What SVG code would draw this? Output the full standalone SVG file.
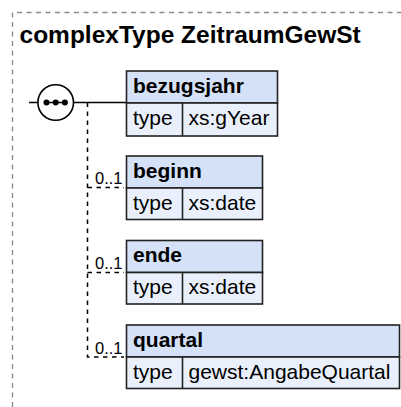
<svg xmlns="http://www.w3.org/2000/svg" width="401" height="407" viewBox="0 0 401 407">
  <style>
    text { font-family: "Liberation Sans", Arial, sans-serif; fill: #000; }
    .title { font-size: 24.5px; font-weight: bold; }
    .name { font-size: 21px; font-weight: bold; }
    .cell { font-size: 21px; }
    .occ { font-size: 16.5px; }
    .hdr { fill: #d5e1f7; stroke: #222; stroke-width: 1.6; }
    .row { fill: #eaf0fb; stroke: #222; stroke-width: 1.6; }
    .sep { stroke: #222; stroke-width: 1.6; }
    .solid { stroke: #000; stroke-width: 1.5; fill: none; }
    .dash { stroke: #000; stroke-width: 1.5; fill: none; stroke-dasharray: 4.5,4.5; }
  </style>

  <!-- complexType frame -->
  <g id="frame">
    <path d="M12.5,407 V12.5 H401" fill="none" stroke="#888" stroke-width="1.3" stroke-dasharray="5,4.5"/>
    <text class="title" x="19.5" y="42.5">complexType ZeitraumGewSt</text>
  </g>

  <!-- connectors -->
  <g id="connectors">
    <line class="solid" x1="29" y1="102.5" x2="126" y2="102.5"/>
    <path class="dash" d="M87.5,102.5 V357 H124"/>
    <path class="dash" d="M87.5,187.5 H124"/>
    <path class="dash" d="M87.5,272.5 H124"/>
    <text class="occ" x="95" y="184">0..1</text>
    <text class="occ" x="95" y="269">0..1</text>
    <text class="occ" x="95" y="353.5">0..1</text>
  </g>

  <!-- sequence compositor -->
  <g id="sequence">
    <circle cx="55.7" cy="102.5" r="17.8" fill="#fff" stroke="#000" stroke-width="1.6"/>
    <line x1="45" y1="102.5" x2="66" y2="102.5" stroke="#000" stroke-width="1.5"/>
    <circle cx="46.5" cy="102.5" r="3"/>
    <circle cx="55.7" cy="102.5" r="3"/>
    <circle cx="64.9" cy="102.5" r="3"/>
  </g>

  <!-- element bezugsjahr -->
  <g id="bezugsjahr">
    <rect class="hdr" x="126.5" y="71" width="151" height="32"/>
    <rect class="row" x="126.5" y="103" width="151" height="33"/>
    <line class="sep" x1="182.5" y1="103" x2="182.5" y2="136"/>
    <text class="name" x="133" y="92.5">bezugsjahr</text>
    <text class="cell" x="133" y="124.5">type</text>
    <text class="cell" x="188.5" y="124.5">xs:gYear</text>
  </g>

  <!-- element beginn -->
  <g id="beginn">
    <rect class="hdr" x="126.5" y="156" width="136" height="32"/>
    <rect class="row" x="126.5" y="188" width="136" height="31.5"/>
    <line class="sep" x1="182.5" y1="188" x2="182.5" y2="219.5"/>
    <text class="name" x="133" y="177.5">beginn</text>
    <text class="cell" x="133" y="209.5">type</text>
    <text class="cell" x="188.5" y="209.5">xs:date</text>
  </g>

  <!-- element ende -->
  <g id="ende">
    <rect class="hdr" x="126.5" y="240.5" width="136" height="32"/>
    <rect class="row" x="126.5" y="272.5" width="136" height="31.5"/>
    <line class="sep" x1="182.5" y1="272.5" x2="182.5" y2="304"/>
    <text class="name" x="133" y="262">ende</text>
    <text class="cell" x="133" y="294">type</text>
    <text class="cell" x="188.5" y="294">xs:date</text>
  </g>

  <!-- element quartal -->
  <g id="quartal">
    <rect class="hdr" x="126.5" y="325" width="273" height="32"/>
    <rect class="row" x="126.5" y="357" width="273" height="31.5"/>
    <line class="sep" x1="182.5" y1="357" x2="182.5" y2="388.5"/>
    <text class="name" x="133" y="346.5">quartal</text>
    <text class="cell" x="133" y="378.5">type</text>
    <text class="cell" x="188.5" y="378.5">gewst:AngabeQuartal</text>
  </g>
</svg>
